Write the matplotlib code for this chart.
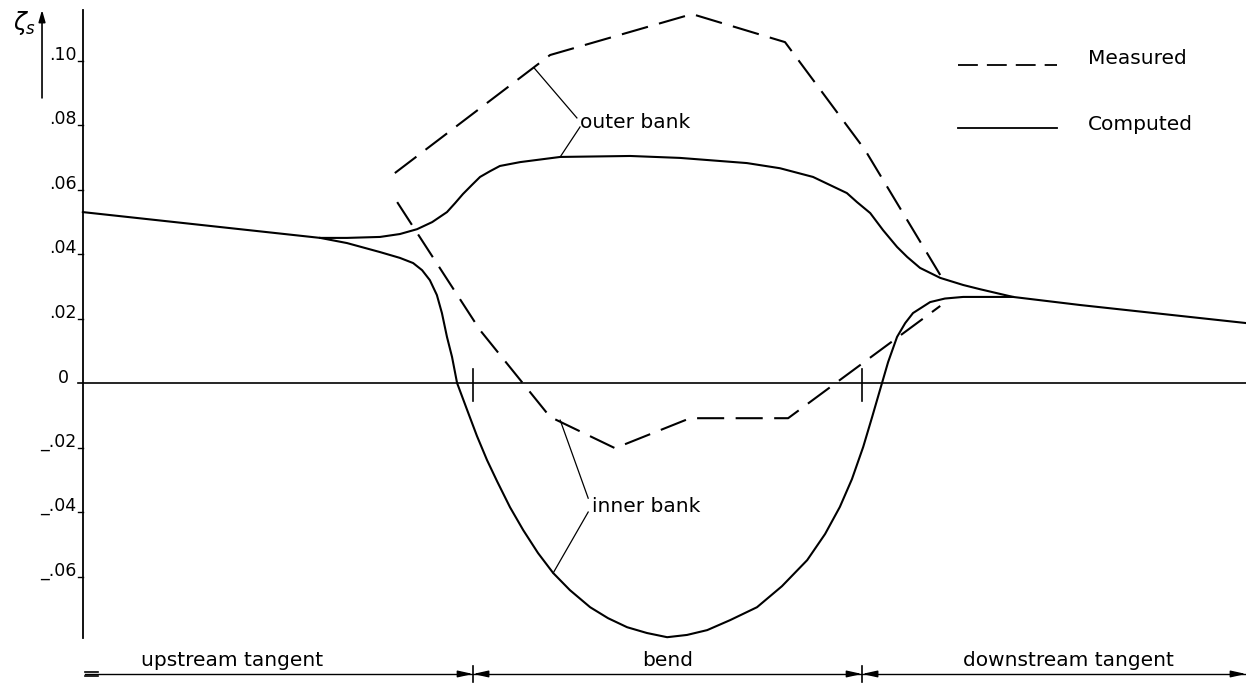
import matplotlib.pyplot as plt

# distance along the channel: 0 = start of bend, 1 = end of bend
# computed water level, outer bank (includes the straight upstream/downstream parts)
x_out_comp = [-1.003, -0.393, -0.324, -0.239, -0.188, -0.144, -0.105, -0.067, -0.046,
              -0.026, -0.003, 0.018, 0.044, 0.069, 0.121, 0.224, 0.404, 0.532, 0.704,
              0.789, 0.874, 0.961, 0.987, 1.021, 1.054, 1.090, 1.116, 1.149, 1.201,
              1.260, 1.303, 1.388, 1.560, 1.987]
z_out_comp = [0.0530, 0.0450, 0.0450, 0.0453, 0.0462, 0.0477, 0.0499, 0.0530, 0.0558,
              0.0586, 0.0614, 0.0639, 0.0657, 0.0673, 0.0685, 0.0701, 0.0704, 0.0698, 0.0682,
              0.0666, 0.0639, 0.0589, 0.0561, 0.0527, 0.0474, 0.0422, 0.0391, 0.0357, 0.0326,
              0.0304, 0.0291, 0.0267, 0.0242, 0.0186]

# computed water level, inner bank
x_in_comp = [-0.393, -0.324, -0.239, -0.188, -0.154, -0.131, -0.111, -0.093, -0.080,
             -0.067, -0.054, -0.041, -0.015, 0.010, 0.036, 0.062, 0.095, 0.129, 0.167,
             0.206, 0.249, 0.301, 0.347, 0.396, 0.447, 0.499, 0.550, 0.602, 0.661,
             0.730, 0.794, 0.859, 0.905, 0.943, 0.974, 1.003, 1.026, 1.046, 1.067,
             1.090, 1.111, 1.131, 1.175, 1.213, 1.260, 1.388]
z_in_comp = [0.0450, 0.0434, 0.0406, 0.0388, 0.0372, 0.0350, 0.0319, 0.0273, 0.0217,
             0.0143, 0.0081, 0.0, -0.0084, -0.0164, -0.0239, -0.0305, -0.0385, -0.0456, -0.0527,
             -0.0589, -0.0642, -0.0695, -0.0729, -0.0757, -0.0775, -0.0788, -0.0781, -0.0766, -0.0735,
             -0.0695, -0.0630, -0.0549, -0.0468, -0.0384, -0.0298, -0.0198, -0.0105, -0.0022, 0.0065,
             0.0143, 0.0186, 0.0217, 0.0251, 0.0262, 0.0267, 0.0267]

# measured water levels
x_out_meas = [-0.201, 0.198, 0.563, 0.802, 1.008, 1.201]
z_out_meas = [0.0651, 0.1017, 0.1144, 0.1057, 0.0722, 0.0335]

x_in_meas = [-0.195, 0.018, 0.198, 0.365, 0.558, 0.810, 1.201]
z_in_meas = [0.0561, 0.0164, -0.0105, -0.0202, -0.0109, -0.0109, 0.0239]

yticks = [0.10, 0.08, 0.06, 0.04, 0.02, 0.0, -0.02, -0.04, -0.06]
ytick_labels = ['.10', '.08', '.06', '.04', '.02', '0', '_.02', '_.04', '_.06']

reaches = ['upstream tangent', 'bend', 'downstream tangent']
reach_label_x = [-0.62, 0.50, 1.53]

plt.rcParams['font.family'] = 'DejaVu Sans'

fig = plt.figure(figsize=(12.46, 6.83), dpi=100)
ax = fig.add_axes([0, 0, 1, 1])
ax.set_xlim(-1.216, 1.987)
ax.set_ylim(-0.0930, 0.11876)
ax.axis('off')

lw = 1.5
dash = (13, 5.5)

# axes
x_axis = -1.003
ax.plot([x_axis, x_axis], [-0.0791, 0.1157], color='black', lw=1.3)
ax.plot([-1.015, 1.987], [0, 0], color='black', lw=1.2)
for v, lab in zip(yticks, ytick_labels):
    if v == 0:
        ax.text(-1.040, 0.0, lab, ha='right', va='baseline', fontsize=12.5)
        continue
    ax.plot([x_axis - 0.013, x_axis], [v, v], color='black', lw=1.0)
    ax.text(-1.019, v + 0.0003, lab, ha='right', va='baseline', fontsize=12.5)

# zeta_s axis arrow
ax.annotate('', xy=(-1.108, 0.1157), xytext=(-1.108, 0.0884),
            arrowprops=dict(arrowstyle='-|>,head_length=0.7,head_width=0.2',
                            color='black', lw=1.2, shrinkA=0, shrinkB=0))
ax.text(-1.122, 0.1115, r'$\zeta_s$', ha='right', va='center', fontsize=17)

# bend limits on the zero line
for xb in [0.0, 1.0]:
    ax.plot([xb, xb], [-0.0055, 0.0045], color='black', lw=1.2)

# curves
ax.plot(x_out_comp, z_out_comp, color='black', lw=lw, solid_joinstyle='round')
ax.plot(x_in_comp, z_in_comp, color='black', lw=lw, solid_joinstyle='round')
ax.plot(x_out_meas, z_out_meas, color='black', lw=lw, dashes=dash)
ax.plot(x_in_meas, z_in_meas, color='black', lw=lw, dashes=dash)

# bank labels with leader lines
ax.text(0.275, 0.0809, 'outer bank', ha='left', va='center', fontsize=14.5)
ax.plot([0.157, 0.267], [0.0977, 0.0822], color='black', lw=0.9)
ax.plot([0.275, 0.224], [0.0794, 0.0701], color='black', lw=0.9)

ax.text(0.305, -0.0384, 'inner bank', ha='left', va='center', fontsize=14.5)
ax.plot([0.224, 0.296], [-0.0115, -0.0357], color='black', lw=0.9)
ax.plot([0.296, 0.206], [-0.0400, -0.0589], color='black', lw=0.9)

# legend
ax.plot([1.247, 1.501], [0.0986, 0.0986], color='black', lw=1.3, dashes=(11, 5))
ax.text(1.581, 0.1005, 'Measured', ha='left', va='center', fontsize=14.5)
ax.plot([1.247, 1.501], [0.0791, 0.0791], color='black', lw=1.3)
ax.text(1.581, 0.0803, 'Computed', ha='left', va='center', fontsize=14.5)

# reach dimension line along the bottom
yb = -0.0902
ax.plot([-0.997, 1.985], [yb, yb], color='black', lw=1.0)
for dy in [-0.0006, 0.0006]:
    ax.plot([-0.997, -0.963], [yb + dy, yb + dy], color='black', lw=1.2)
arrow = dict(arrowstyle='-|>,head_length=0.9,head_width=0.2', color='black',
             lw=1.0, shrinkA=0, shrinkB=0)
for xb in [0.0, 1.0]:
    ax.plot([xb, xb], [yb - 0.0026, yb + 0.0026], color='black', lw=1.2)
    ax.annotate('', xy=(xb, yb), xytext=(xb - 0.035, yb), arrowprops=arrow)
    ax.annotate('', xy=(xb, yb), xytext=(xb + 0.035, yb), arrowprops=arrow)
ax.annotate('', xy=(1.987, yb), xytext=(1.96, yb), arrowprops=arrow)
for lab, xl in zip(reaches, reach_label_x):
    ax.text(xl, yb + 0.0025, lab, ha='center', va='baseline', fontsize=14.5)

fig.savefig('out.png', dpi=100)
